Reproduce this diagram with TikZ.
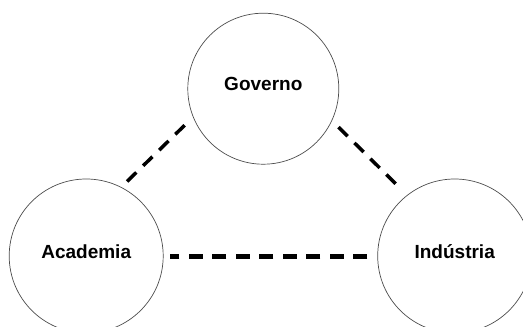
\documentclass[tikz,border=0pt]{standalone}
\usepackage{fontspec}
\setmainfont{Liberation Sans}
\begin{document}
\begin{tikzpicture}[x=1pt,y=-1pt,
  actor/.style={circle, draw=black!70, line width=0.7pt, minimum size=154pt,
    inner sep=0pt, font=\bfseries\fontsize{19}{22}\selectfont,
    text height=14pt, text depth=10pt},
  link/.style={line width=3.5pt, dash pattern=on 13pt off 9.5pt}]

  \useasboundingbox (0,0) rectangle (523,327);

  \node[actor, minimum size=151pt] (gov) at (263.3,88.7) {Governo};
  \node[actor] (acad) at (86.2,256) {Academia};
  \node[actor] (ind) at (454.7,256) {Indústria};

  \draw[link, shorten <=8pt, shorten >=11pt] (acad.63) -- (gov.202);
  \draw[link, shorten <=9pt, shorten >=10.5pt] (gov.-25) -- (ind.128);
  \draw[link, line width=5pt, dash pattern=on 14pt off 9.5pt,
    shorten <=10pt, shorten >=6pt] (ind.west) -- (acad.east);

\end{tikzpicture}
\end{document}
